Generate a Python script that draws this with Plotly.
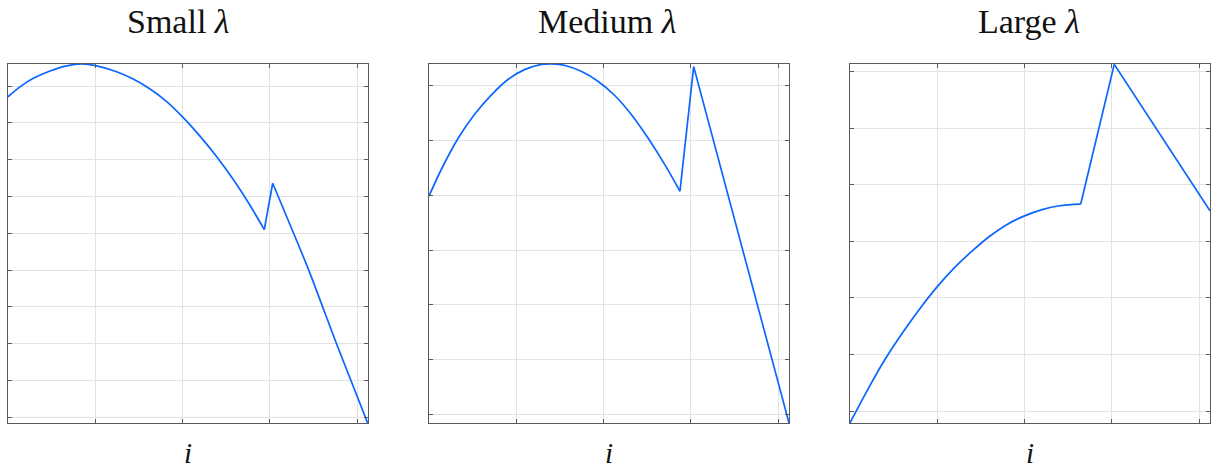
import plotly.graph_objects as go

# ---------------- data ----------------
titles = ["Small <i>λ</i>", "Medium <i>λ</i>", "Large <i>λ</i>"]
x_label = "<i>i</i>"

i_small = [0, 13.7, 29.0, 48.1, 67.2, 84.4, 101.6, 124.5, 143.5, 162.7, 181.8, 199.7,
           219.9, 239.1, 258.1, 277.2, 293.6, 303.2, 344.5, 376.3, 412.0]
v_small = [8.71, 8.98, 9.21, 9.41, 9.55, 9.60, 9.55, 9.39, 9.19, 8.92, 8.58, 8.17,
           7.64, 7.08, 6.46, 5.76, 5.10, 6.36, 4.00, 2.00, -0.155]

i_medium = [0, 14.5, 33.6, 52.7, 71.8, 90.8, 110.0, 129.1, 140.5, 155.8, 174.9, 193.9,
            213.1, 232.2, 251.3, 270.3, 287.5, 303.2, 412.4]
v_medium = [3.98, 4.48, 5.04, 5.48, 5.83, 6.11, 6.29, 6.38, 6.39, 6.36, 6.25, 6.07,
            5.81, 5.46, 5.03, 4.55, 4.07, 6.34, -0.15]

i_large = [0, 20.0, 40.0, 60.0, 80.0, 100.0, 120.0, 140.0, 160.0, 180.0, 200.0, 220.0,
           240.0, 264.3, 302.7, 412.4]
v_large = [-0.21, 0.37, 0.91, 1.38, 1.81, 2.20, 2.54, 2.83, 3.09, 3.30, 3.45, 3.56,
           3.63, 3.66, 6.13, 3.54]

# index of the dip / corner where the smooth arc ends
dip_idx = [16, 16, 13]
# index of the spike top
peak_idx = [17, 17, 14]

series = [(i_small, v_small), (i_medium, v_medium), (i_large, v_large)]
y_ranges = [[-0.155, 9.60], [-0.151, 6.388], [-0.212, 6.136]]
x_range = [0, 412.4]

# ---------------- layout (pixel geometry) ----------------
W, H = 1211, 470
panel_px = [(8, 368), (429, 789), (850, 1210)]
top_px, bot_px = 64, 423
title_cx = [178.5, 606.5, 1029]

LINE = "#0a66ff"
FRAME = "#5a5a5a"
GRID = "#e2e2e2"
FONT = "Liberation Serif"

fig = go.Figure()
layout = dict(
    width=W, height=H,
    margin=dict(l=0, r=0, t=0, b=0),
    paper_bgcolor="white", plot_bgcolor="white",
    showlegend=False,
    annotations=[],
)

for k, ((xs, ys), (x0, x1)) in enumerate(zip(series, panel_px)):
    n = "" if k == 0 else str(k + 1)
    d, p = dip_idx[k], peak_idx[k]
    ax = dict(xaxis="x" + n, yaxis="y" + n, hoverinfo="skip", mode="lines")
    # smooth arc up to the dip
    fig.add_trace(go.Scatter(x=xs[:d + 1], y=ys[:d + 1],
                             line=dict(color=LINE, width=1.7, shape="spline", smoothing=1.0), **ax))
    # straight jump from dip to spike
    fig.add_trace(go.Scatter(x=xs[d:p + 1], y=ys[d:p + 1],
                             line=dict(color=LINE, width=1.7), **ax))
    # descent after the spike
    fig.add_trace(go.Scatter(x=xs[p:], y=ys[p:],
                             line=dict(color=LINE, width=1.7, shape="spline", smoothing=0.6), **ax))
    common = dict(showline=True, linecolor=FRAME, linewidth=1.3, mirror="ticks",
                  ticks="inside", ticklen=4, tickcolor=FRAME, tickwidth=1,
                  showticklabels=False, showgrid=True, gridcolor=GRID, gridwidth=1,
                  zeroline=False, tick0=0)
    layout["xaxis" + n] = dict(domain=[x0 / W, x1 / W], range=x_range, dtick=100,
                               anchor="y" + n, **common)
    layout["yaxis" + n] = dict(domain=[(H - bot_px) / H, (H - top_px) / H],
                               range=y_ranges[k], dtick=1, anchor="x" + n, **common)
    layout["annotations"].append(dict(
        text=titles[k], x=title_cx[k] / W, y=(H - 22) / H, xref="paper", yref="paper",
        xanchor="center", yanchor="middle", showarrow=False,
        font=dict(family=FONT, size=34, color="#111")))
    layout["annotations"].append(dict(
        text=x_label, x=(x0 + x1) / 2 / W, y=(H - 453) / H, xref="paper", yref="paper",
        xanchor="center", yanchor="middle", showarrow=False,
        font=dict(family=FONT, size=29, color="#111")))

fig.update_layout(**layout)
fig.write_html("out.html", config={"displayModeBar": False})

# remove the default page margin so the figure sits at the window's corner
with open("out.html", encoding="utf-8") as f:
    html = f.read()
html = html.replace("<body>", '<body style="margin:0;padding:0;overflow:hidden">', 1)
with open("out.html", "w", encoding="utf-8") as f:
    f.write(html)
